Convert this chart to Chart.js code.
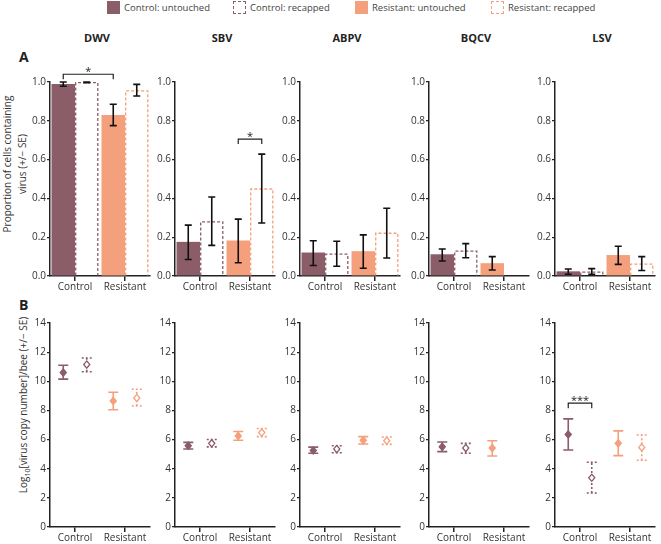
<!DOCTYPE html>
<html>
<head>
<meta charset="utf-8">
<script src="https://cdn.jsdelivr.net/npm/chart.js@4.4.1/dist/chart.umd.min.js"></script>
<style>
    body { margin: 0; background: #fff; font-family: 'Open Sans', sans-serif; color: #333; }
    #fig { position: relative; width: 661px; height: 544px; overflow: hidden; }
    .panel { position: absolute; }
    .legend-item { position: absolute; top: 0; height: 15px; font-size: 9.5px; line-height: 15px; color: #444; white-space: nowrap; }
    .legend-item i { display: inline-block; width: 13px; height: 13px; vertical-align: top; margin: 1px 4px 0 0; box-sizing: border-box; }
    .col-title { position: absolute; top: 30px; font-size: 11px; font-weight: bold; color: #222; transform: translateX(-50%); }
    .row-label { position: absolute; font-size: 14px; font-weight: bold; color: #222; }
    .ytitle { position: absolute; font-size: 10px; line-height: 15px; color: #333; text-align: center; white-space: nowrap;
              transform: translate(-50%, -50%) rotate(-90deg); }
    .ytitle sub { font-size: 7px; line-height: 0; }
</style>
</head>
<body>
<div id="fig">
    <div class="legend-item" style="left:107px"><i style="background:#8A5D68"></i>Control: untouched</div>
    <div class="legend-item" style="left:233px"><i style="border:1px dashed #8A5D68"></i>Control: recapped</div>
    <div class="legend-item" style="left:355px"><i style="background:#F5A07D"></i>Resistant: untouched</div>
    <div class="legend-item" style="left:491px"><i style="border:1px dashed #F5A07D"></i>Resistant: recapped</div>
    <div class="row-label" style="left:19px; top:47px">A</div>
    <div class="row-label" style="left:19px; top:295px">B</div>
    <div class="ytitle" style="left:15px; top:164px">Proportion of cells containing<br>virus (+/− SE)</div>
    <div class="ytitle" style="left:23px; top:405px">Log<sub>10</sub>[virus copy number]/bee (+/− SE)</div>
</div>
<script>
// ---- data ----
const viruses = ['DWV', 'SBV', 'ABPV', 'BQCV', 'LSV'];
const colonies = ['Control', 'Resistant'];

// A: proportion of cells containing virus, per virus [Control, Resistant]
const propUntouched   = [[0.99, 0.83], [0.176, 0.183], [0.121, 0.128], [0.112, 0.066], [0.024, 0.108]];
const propUntouchedLo = [[0.978, 0.775], [0.085, 0.068], [0.054, 0.04], [0.077, 0.031], [0.009, 0.06]];
const propUntouchedHi = [[1.0, 0.885], [0.262, 0.293], [0.182, 0.212], [0.139, 0.1], [0.036, 0.153]];
const propRecapped    = [[1.0, 0.958], [0.283, 0.452], [0.116, 0.224], [0.132, null], [0.024, 0.065]];
const propRecappedLo  = [[0.997, 0.928], [0.158, 0.273], [0.05, 0.093], [0.094, null], [0.009, 0.028]];
const propRecappedHi  = [[1.0, 0.988], [0.407, 0.628], [0.179, 0.349], [0.167, null], [0.038, 0.1]];

// B: log10 virus copy number per bee
const loadUntouched   = [[10.6, 8.65], [5.58, 6.25], [5.25, 5.95], [5.5, 5.42], [6.35, 5.74]];
const loadUntouchedLo = [[10.15, 8.05], [5.35, 5.95], [5.06, 5.7], [5.17, 4.87], [5.28, 4.9]];
const loadUntouchedHi = [[11.1, 9.25], [5.81, 6.55], [5.48, 6.2], [5.83, 5.92], [7.42, 6.6]];
const loadRecapped    = [[11.15, 8.85], [5.74, 6.48], [5.35, 5.92], [5.42, null], [3.38, 5.46]];
const loadRecappedLo  = [[10.65, 8.3], [5.5, 6.2], [5.1, 5.67], [5.06, null], [2.33, 4.58]];
const loadRecappedHi  = [[11.6, 9.45], [6.0, 6.76], [5.58, 6.18], [5.74, null], [4.44, 6.31]];

// significance brackets: from/to = [dataset (0 untouched, 1 recapped), colony]
const sigA = [
    { v: 0, from: [0, 0], to: [0, 1], at: 1.04, label: '*' },
    { v: 1, from: [0, 1], to: [1, 1], at: 0.706, label: '*' }
];
const sigB = [
    { v: 4, from: [0, 0], to: [1, 0], at: 8.5, label: '***' }
];

const CONTROL = '#8A5D68';
const RESIST = '#F5A07D';
const groupColors = [CONTROL, RESIST];
const axisX = [50, 175, 300, 429, 555];
const FONT = "'Open Sans', sans-serif";

// error bars, dashed recapped outlines and markers
const marksPlugin = {
    id: 'marks',
    afterDatasetsDraw(chart) {
        const ctx = chart.ctx;
        const yScale = chart.scales.y;
        const row = chart.options.plugins.marks.row;
        chart.data.datasets.forEach((ds, di) => {
            const meta = chart.getDatasetMeta(di);
            meta.data.forEach((bar, i) => {
                if (ds.data[i] == null) return;
                const p = bar.getProps(['x', 'y', 'base', 'width'], true);
                const yLo = yScale.getPixelForValue(ds.lo[i]);
                const yHi = yScale.getPixelForValue(ds.hi[i]);
                ctx.save();
                if (row === 'A') {
                    if (ds.recapped) {
                        const l = p.x - p.width / 2 + 0.7, r = p.x + p.width / 2 - 0.7;
                        ctx.strokeStyle = groupColors[i];
                        ctx.lineWidth = 1.3;
                        ctx.setLineDash([3, 2]);
                        ctx.beginPath();
                        ctx.moveTo(l, p.base);
                        ctx.lineTo(l, p.y + 0.7);
                        ctx.lineTo(r, p.y + 0.7);
                        ctx.lineTo(r, p.base);
                        ctx.stroke();
                        ctx.setLineDash([]);
                    }
                    ctx.strokeStyle = '#111';
                    ctx.lineWidth = 1.6;
                    ctx.beginPath();
                    ctx.moveTo(p.x, yLo); ctx.lineTo(p.x, yHi);
                    ctx.moveTo(p.x - 3.5, yLo); ctx.lineTo(p.x + 3.5, yLo);
                    ctx.moveTo(p.x - 3.5, yHi); ctx.lineTo(p.x + 3.5, yHi);
                    ctx.stroke();
                } else {
                    const c = groupColors[i];
                    ctx.strokeStyle = c;
                    ctx.lineWidth = 1.6;
                    if (ds.recapped) ctx.setLineDash([2, 2]);
                    ctx.beginPath();
                    ctx.moveTo(p.x, yLo); ctx.lineTo(p.x, yHi);
                    ctx.moveTo(p.x - 5, yLo); ctx.lineTo(p.x + 5, yLo);
                    ctx.moveTo(p.x - 5, yHi); ctx.lineTo(p.x + 5, yHi);
                    ctx.stroke();
                    ctx.setLineDash([]);
                    const s = 3.6;
                    ctx.beginPath();
                    ctx.moveTo(p.x, p.y - s); ctx.lineTo(p.x + s * 0.85, p.y);
                    ctx.lineTo(p.x, p.y + s); ctx.lineTo(p.x - s * 0.85, p.y);
                    ctx.closePath();
                    ctx.fillStyle = ds.recapped ? '#fff' : c;
                    ctx.fill();
                    ctx.lineWidth = 1.3;
                    ctx.stroke();
                }
                ctx.restore();
            });
        });
    },
    afterDraw(chart) {
        const ctx = chart.ctx;
        const brackets = chart.options.plugins.marks.brackets || [];
        brackets.forEach(b => {
            const x1 = chart.getDatasetMeta(b.from[0]).data[b.from[1]].x;
            const x2 = chart.getDatasetMeta(b.to[0]).data[b.to[1]].x;
            const y = chart.scales.y.getPixelForValue(b.at);
            ctx.save();
            ctx.strokeStyle = '#222';
            ctx.lineWidth = 1.2;
            ctx.beginPath();
            ctx.moveTo(x1, y + 5); ctx.lineTo(x1, y); ctx.lineTo(x2, y); ctx.lineTo(x2, y + 5);
            ctx.stroke();
            ctx.fillStyle = '#222';
            ctx.font = '11px ' + FONT;
            ctx.textAlign = 'center';
            ctx.textBaseline = 'bottom';
            ctx.fillText(b.label, (x1 + x2) / 2, y + 3);
            ctx.restore();
        });
    }
};

function makePanel(row, v) {
    const fig = document.getElementById('fig');
    const isA = row === 'A';
    const div = document.createElement('div');
    div.className = 'panel';
    div.style.left = (axisX[v] - 40) + 'px';
    div.style.top = (isA ? 60 : 300) + 'px';
    div.style.width = '144px';
    div.style.height = (isA ? 238 : 244) + 'px';
    const canvas = document.createElement('canvas');
    div.appendChild(canvas);
    fig.appendChild(div);

    const mean = isA ? [propUntouched, propRecapped] : [loadUntouched, loadRecapped];
    const lo = isA ? [propUntouchedLo, propRecappedLo] : [loadUntouchedLo, loadRecappedLo];
    const hi = isA ? [propUntouchedHi, propRecappedHi] : [loadUntouchedHi, loadRecappedHi];

    const datasets = [0, 1].map(g => ({
        label: g === 0 ? 'untouched' : 'recapped',
        data: mean[g][v],
        lo: lo[g][v],
        hi: hi[g][v],
        recapped: g === 1,
        backgroundColor: (isA && g === 0) ? groupColors : 'rgba(0,0,0,0)',
        borderWidth: 0,
        categoryPercentage: 0.94,
        barPercentage: 1.0
    }));

    const tickFont = { family: FONT, size: 10 };
    new Chart(canvas, {
        type: 'bar',
        data: { labels: colonies, datasets: datasets },
        plugins: [marksPlugin],
        options: {
            responsive: true,
            maintainAspectRatio: false,
            animation: false,
            layout: { padding: { top: isA ? 22 : 23, right: 4, left: 0, bottom: 0 } },
            plugins: {
                legend: { display: false },
                tooltip: { enabled: false },
                marks: { row: row, brackets: (isA ? sigA : sigB).filter(b => b.v === v) }
            },
            scales: {
                x: {
                    offset: true,
                    grid: { display: true, drawOnChartArea: false, offset: false, tickLength: 5, color: '#222', lineWidth: 1.5 },
                    border: { display: true, color: '#222', width: 1.5 },
                    ticks: { color: '#333', font: tickFont, padding: 0, maxRotation: 0 },
                    afterFit: s => { s.height = isA ? 22 : 17; }
                },
                y: {
                    min: 0,
                    max: isA ? 1 : 14,
                    grid: { display: true, drawOnChartArea: false, tickLength: 3, color: '#222', lineWidth: 1.2 },
                    border: { display: true, color: '#222', width: 1.5 },
                    ticks: {
                        stepSize: isA ? 0.2 : 2,
                        color: '#333',
                        font: tickFont,
                        padding: 1,
                        callback: val => isA ? val.toFixed(1) : val
                    },
                    afterFit: s => { s.width = 40; }
                }
            }
        }
    });
}

viruses.forEach((name, v) => {
    const t = document.createElement('div');
    t.className = 'col-title';
    t.style.left = (axisX[v] + 47) + 'px';
    t.textContent = name;
    document.getElementById('fig').appendChild(t);
    makePanel('A', v);
    makePanel('B', v);
});
</script>
</body>
</html>
